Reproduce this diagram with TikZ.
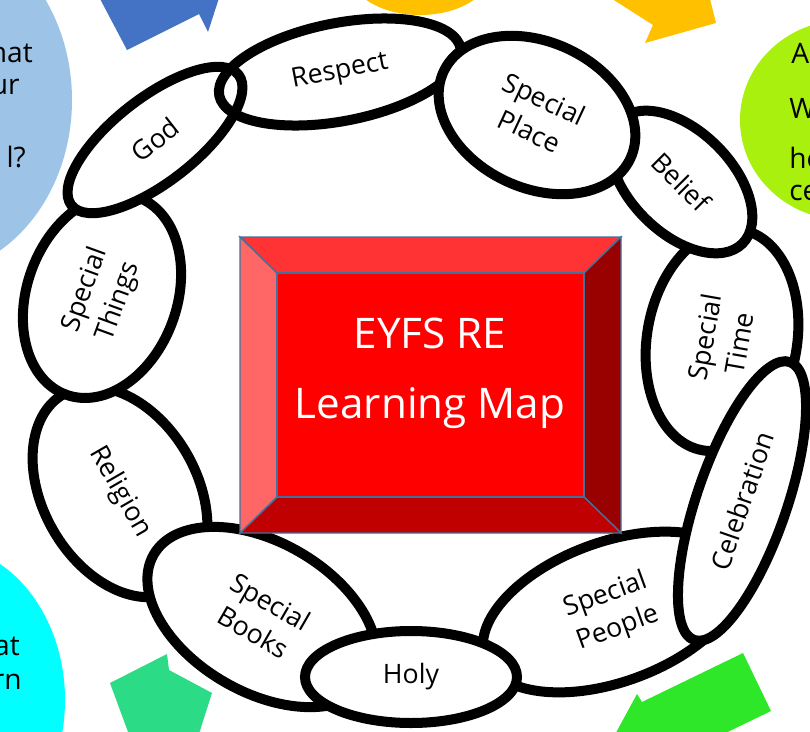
\documentclass[tikz,border=0pt]{standalone}
\usepackage{fontspec}
\setmainfont{Open Sans}
\usepackage{tikz}
\usetikzlibrary{shapes.geometric}
\definecolor{circleblue}{HTML}{9DC3E6}
\definecolor{arrowblue}{HTML}{4472C4}
\definecolor{arrowgold}{HTML}{FFC000}
\definecolor{blobgreen}{HTML}{A9F00F}
\definecolor{circlecyan}{HTML}{00FFFF}
\definecolor{arrowmint}{HTML}{2BDB86}
\definecolor{arrowgreen}{HTML}{2DE728}
\definecolor{edgeblue}{HTML}{41719C}
\definecolor{boxtop}{HTML}{FF3333}
\definecolor{boxleft}{HTML}{FF6666}
\definecolor{boxright}{HTML}{990000}
\definecolor{boxbottom}{HTML}{C00000}
\definecolor{boxface}{HTML}{FF0000}
\newcommand{\pxu}{0.025cm}
\tikzset{
  topic/.style={ellipse, draw=black, line width=0.25cm, fill=white, inner sep=0pt,
    align=center, font=\fontsize{19}{25}\selectfont},
  part/.style={inner sep=0pt, font=\fontsize{20}{24}\selectfont},
  bevel/.style={draw=edgeblue, line width=1pt},
}

\begin{document}
\begin{tikzpicture}[x=0.025cm, y=-0.025cm]
\useasboundingbox (0,0) rectangle (810,731);
\clip (0,0) rectangle (810,731);

\fill[circleblue] (-75,100) ellipse [x radius=147, y radius=175];
\fill[arrowblue] (98,-5) -- (127,50) -- (199,14) -- (208,32) -- (220,-5) -- cycle;
\fill[arrowgold] (420,-30) ellipse [x radius=72, y radius=45];
\fill[arrowgold] (606,-5) -- (653,25) -- (645,43) -- (716,23) -- (709,-5) -- cycle;
\fill[blobgreen] (845,120) ellipse [x radius=105, y radius=100];
\fill[circlecyan] (-60,700) ellipse [x radius=125, y radius=155];
\fill[arrowmint] (110,683) -- (167,654) -- (169,670) -- (212,693) -- (197,740) -- (131,740) -- cycle;
\fill[arrowgreen] (612,740) -- (637,694) -- (642,702) -- (743,653) -- (771,711) -- (711,740) -- cycle;

\draw (33,52) node[part, anchor=east] (blue1) {hat};
\draw (20,87) node[part, anchor=east] (blue2) {ur};
\draw (26,157) node[part, anchor=east] (blue3) {l?};
\draw (791,53) node[part, anchor=west] (green1) {A};
\draw (789,108) node[part, anchor=west] (green2) {W};
\draw (789,158) node[part, anchor=west] (green3) {he};
\draw (789,193) node[part, anchor=west] (green4) {ce};
\draw (20,646) node[part, anchor=east] (cyan1) {at};
\draw (22,682) node[part, anchor=east] (cyan2) {rn};

\draw (120,492) node[topic, minimum width=226*\pxu, minimum height=154*\pxu, rotate=-60] (religion) {Religion};
\draw (102,296) node[topic, minimum width=210*\pxu, minimum height=150*\pxu, rotate=70] (things) {Special\\Things};
\draw (155,140) node[topic, minimum width=212*\pxu, minimum height=84*\pxu, rotate=38] (god) {God};
\draw (340,72) node[topic, fill=none, minimum width=246*\pxu, minimum height=98*\pxu, rotate=11] (respect) {Respect};
\draw (722,340) node[topic, minimum width=224*\pxu, minimum height=150*\pxu, rotate=80] (time) {Special\\Time};
\draw (681,182) node[topic, minimum width=174*\pxu, minimum height=102*\pxu, rotate=-45] (belief) {Belief};
\draw (537,115) node[topic, minimum width=206*\pxu, minimum height=146*\pxu, rotate=-25] (place) {Special\\Place};
\draw (612,612) node[topic, minimum width=270*\pxu, minimum height=140*\pxu, rotate=20] (people) {Special\\People};
\draw (742,501) node[topic, minimum width=294*\pxu, minimum height=90*\pxu, rotate=71] (celebration) {Celebration};
\draw (262,617) node[topic, minimum width=250*\pxu, minimum height=150*\pxu, rotate=-30] (books) {Special\\Books};
\draw (411,677) node[topic, minimum width=212*\pxu, minimum height=92*\pxu] (holy) {Holy};

\coordinate (o1) at (240,237);
\coordinate (o2) at (621,237);
\coordinate (o3) at (621,533);
\coordinate (o4) at (240,533);
\coordinate (i1) at (277,273);
\coordinate (i2) at (584,273);
\coordinate (i3) at (584,497);
\coordinate (i4) at (277,497);
\filldraw[bevel, fill=boxtop] (o1) -- (o2) -- (i2) -- (i1) -- cycle;
\filldraw[bevel, fill=boxright] (o2) -- (o3) -- (i3) -- (i2) -- cycle;
\filldraw[bevel, fill=boxbottom] (o3) -- (o4) -- (i4) -- (i3) -- cycle;
\filldraw[bevel, fill=boxleft] (o4) -- (o1) -- (i1) -- (i4) -- cycle;
\filldraw[bevel, fill=boxface] (i1) rectangle (i3);
\draw (430,373) node[text=white, align=center, font=\fontsize{30}{50}\selectfont] (title) {EYFS RE\\Learning Map};

\end{tikzpicture}
\end{document}
